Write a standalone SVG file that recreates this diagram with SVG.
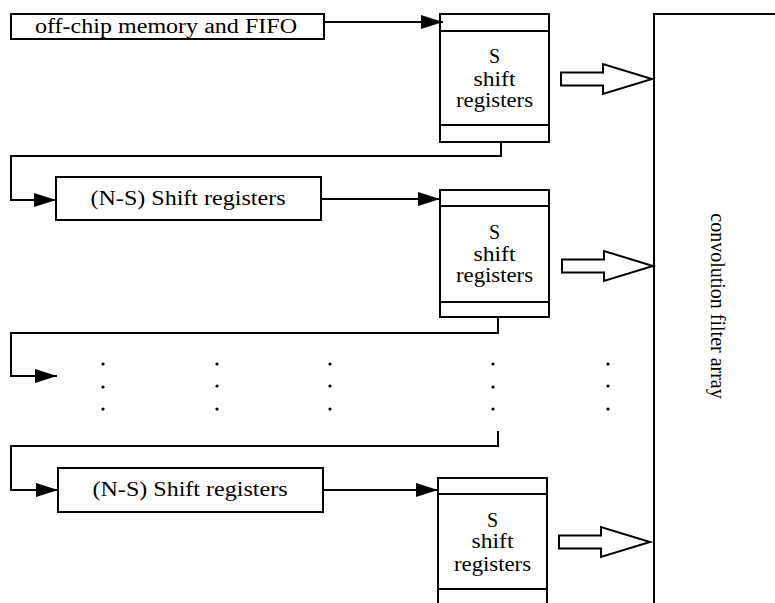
<svg xmlns="http://www.w3.org/2000/svg" width="775" height="603" viewBox="0 0 775 603">
  <style>
    .box { fill: #fff; stroke: #000; stroke-width: 2; }
    .div { stroke: #000; stroke-width: 2; fill: none; }
    .wire { stroke: #000; stroke-width: 2; fill: none; }
    .txt { font-family: "Liberation Serif", "Times New Roman", serif; font-size: 20px; fill: #000; text-anchor: middle; }
    .vtxt { font-family: "Liberation Serif", "Times New Roman", serif; font-size: 20px; fill: #000; text-anchor: middle; }
    .fat { fill: #fff; stroke: #000; stroke-width: 2; stroke-linejoin: miter; }
    .dot { fill: #000; }
  </style>
  <defs>
    <marker id="head" viewBox="0 0 22 14" refX="22" refY="7" markerWidth="22" markerHeight="14" markerUnits="userSpaceOnUse" orient="auto">
      <path d="M0,0 L22,7 L0,14 Z" fill="#000"/>
    </marker>
    <path id="bigArrow" d="M0,-6.5 H42 V-15 L91,0 L42,15 V6.5 H0 Z"/>
  </defs>

  <rect width="775" height="603" fill="#fff"/>

  <!-- source -->
  <g id="offchip">
    <rect class="box" x="11" y="14" width="313" height="25"/>
    <text class="txt" x="166" y="33" textLength="262" lengthAdjust="spacingAndGlyphs">off-chip memory and FIFO</text>
  </g>

  <!-- S register stages -->
  <g id="sreg1">
    <rect class="box" x="440" y="14" width="109" height="128"/>
    <line class="div" x1="440" y1="31" x2="549" y2="31"/>
    <line class="div" x1="440" y1="125" x2="549" y2="125"/>
    <text class="txt" x="494.5" y="63">S</text>
    <text class="txt" x="494.5" y="86" textLength="42" lengthAdjust="spacingAndGlyphs">shift</text>
    <text class="txt" x="494.5" y="107" textLength="77" lengthAdjust="spacingAndGlyphs">registers</text>
  </g>

  <g id="nsreg1">
    <rect class="box" x="56" y="177" width="265" height="43"/>
    <text class="txt" x="188" y="205" textLength="195" lengthAdjust="spacingAndGlyphs">(N-S) Shift registers</text>
  </g>

  <g id="sreg2">
    <rect class="box" x="440" y="190" width="109" height="127"/>
    <line class="div" x1="440" y1="206" x2="549" y2="206"/>
    <line class="div" x1="440" y1="302" x2="549" y2="302"/>
    <text class="txt" x="494.5" y="239">S</text>
    <text class="txt" x="494.5" y="261" textLength="42" lengthAdjust="spacingAndGlyphs">shift</text>
    <text class="txt" x="494.5" y="282" textLength="77" lengthAdjust="spacingAndGlyphs">registers</text>
  </g>

  <g id="nsreg2">
    <rect class="box" x="58" y="468" width="265" height="44"/>
    <text class="txt" x="190" y="496" textLength="195" lengthAdjust="spacingAndGlyphs">(N-S) Shift registers</text>
  </g>

  <g id="sreg3">
    <rect class="box" x="438" y="478" width="109" height="140"/>
    <line class="div" x1="438" y1="494" x2="547" y2="494"/>
    <line class="div" x1="438" y1="589" x2="547" y2="589"/>
    <text class="txt" x="492.5" y="527">S</text>
    <text class="txt" x="492.5" y="548" textLength="42" lengthAdjust="spacingAndGlyphs">shift</text>
    <text class="txt" x="492.5" y="571" textLength="77" lengthAdjust="spacingAndGlyphs">registers</text>
  </g>

  <!-- filter array -->
  <g id="filter">
    <path class="div" d="M775,14 H654 V610"/>
    <text class="vtxt" x="716" y="306" transform="rotate(90 716 306)" dominant-baseline="middle">convolution filter array</text>
  </g>

  <!-- continuation dots -->
  <g id="ellipsis">
    <circle class="dot" cx="103" cy="364" r="1.6"/>
    <circle class="dot" cx="103" cy="387" r="1.6"/>
    <circle class="dot" cx="103" cy="409" r="1.6"/>
    <circle class="dot" cx="217" cy="364" r="1.6"/>
    <circle class="dot" cx="217" cy="386" r="1.6"/>
    <circle class="dot" cx="217" cy="409" r="1.6"/>
    <circle class="dot" cx="330" cy="364" r="1.6"/>
    <circle class="dot" cx="330" cy="386" r="1.6"/>
    <circle class="dot" cx="330" cy="409" r="1.6"/>
    <circle class="dot" cx="493" cy="364" r="1.6"/>
    <circle class="dot" cx="493" cy="387" r="1.6"/>
    <circle class="dot" cx="493" cy="409" r="1.6"/>
    <circle class="dot" cx="608" cy="364" r="1.6"/>
    <circle class="dot" cx="608" cy="386" r="1.6"/>
    <circle class="dot" cx="608" cy="409" r="1.6"/>
  </g>

  <!-- connectors -->
  <g id="connectors">
    <path class="wire" d="M324,22 H443" marker-end="url(#head)"/>
    <path class="wire" d="M501,142 V156 H11 V200 H56" marker-end="url(#head)"/>
    <path class="wire" d="M321,199 H440" marker-end="url(#head)"/>
    <path class="wire" d="M498,317 V333 H11 V376 H57" marker-end="url(#head)"/>
    <path class="wire" d="M498,431 V446 H11 V490 H58" marker-end="url(#head)"/>
    <path class="wire" d="M323,490 H438" marker-end="url(#head)"/>
    <use class="fat" href="#bigArrow" transform="translate(561,79)"/>
    <use class="fat" href="#bigArrow" transform="translate(562,266)"/>
    <use class="fat" href="#bigArrow" transform="translate(559,542)"/>
  </g>
</svg>
